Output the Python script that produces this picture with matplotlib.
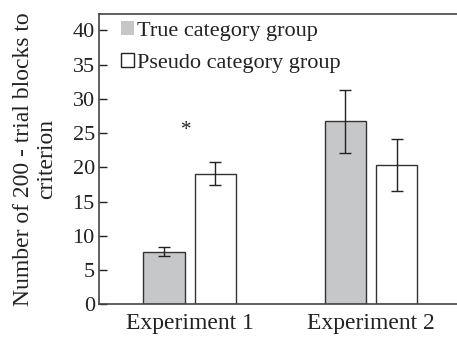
import matplotlib
matplotlib.use("Agg")
import matplotlib.pyplot as plt
import matplotlib.patches as mpatches
import numpy as np

# ── Data ──────────────────────────────────────────────────────────────────────

experiments = ["Experiment 1", "Experiment 2"]
groups = ["True category group", "Pseudo category group"]

true_means = [7.7, 26.7]
true_errs = [0.7, 4.6]
pseudo_means = [19.1, 20.3]
pseudo_errs = [1.7, 3.8]

yticks = [0, 5, 10, 15, 20, 25, 30, 35, 40]

GREY = "#c6c7c9"
EDGE = "#333333"

# ── Plot ──────────────────────────────────────────────────────────────────────

plt.rcParams.update({
    "font.family": "Liberation Serif",
    "font.size": 16,
    "text.color": "#222222",
    "axes.labelcolor": "#222222",
    "xtick.color": "#222222",
    "ytick.color": "#222222",
})

fig = plt.figure(figsize=(4.57, 3.37), dpi=100)
ax = fig.add_axes([99 / 457, 1 - 304.3 / 337, (457 - 99) / 457 + 0.01, (304.3 - 14) / 337])

x = np.arange(len(experiments))
width = 0.228
off = 0.142
ekw = dict(elinewidth=1.0, capsize=4, capthick=1.0, ecolor="#222222")

ax.bar(x - off, true_means, width, yerr=true_errs, color=GREY,
       edgecolor=EDGE, linewidth=1.0, error_kw=ekw)
ax.bar(x + off, pseudo_means, width, yerr=pseudo_errs, color="white",
       edgecolor=EDGE, linewidth=1.0, error_kw=ekw)

ax.text(x[0] - 0.017, 25.4, "*", ha="center", va="center", fontsize=15)

ax.set_xlim(-0.5, 1.5)
ax.set_ylim(0, 42.4)
ax.set_xticks(x)
ax.set_xticklabels(experiments)
ax.set_yticks(yticks)
ax.tick_params(axis="x", length=0, pad=6, labelsize=17)
ax.tick_params(axis="y", direction="in", length=6, width=1.0, pad=3)
ax.set_ylabel("Number of 200 - trial blocks to\ncriterion", labelpad=11,
              linespacing=1.15, fontsize=17)
for s in ax.spines.values():
    s.set_color("#444444")
    s.set_linewidth(1.2)
ax.spines["right"].set_visible(False)

handles = [
    mpatches.Patch(facecolor=GREY, edgecolor="none"),
    mpatches.Patch(facecolor="white", edgecolor="#222222", linewidth=1.0),
]
ax.legend(handles, groups, loc="upper left", frameon=False, handlelength=0.6,
          handleheight=0.6, handletextpad=0.15, labelspacing=0.55,
          borderaxespad=0.0, borderpad=0.0, bbox_to_anchor=(0.06, 0.975))

fig.savefig("out.png", dpi=100)
